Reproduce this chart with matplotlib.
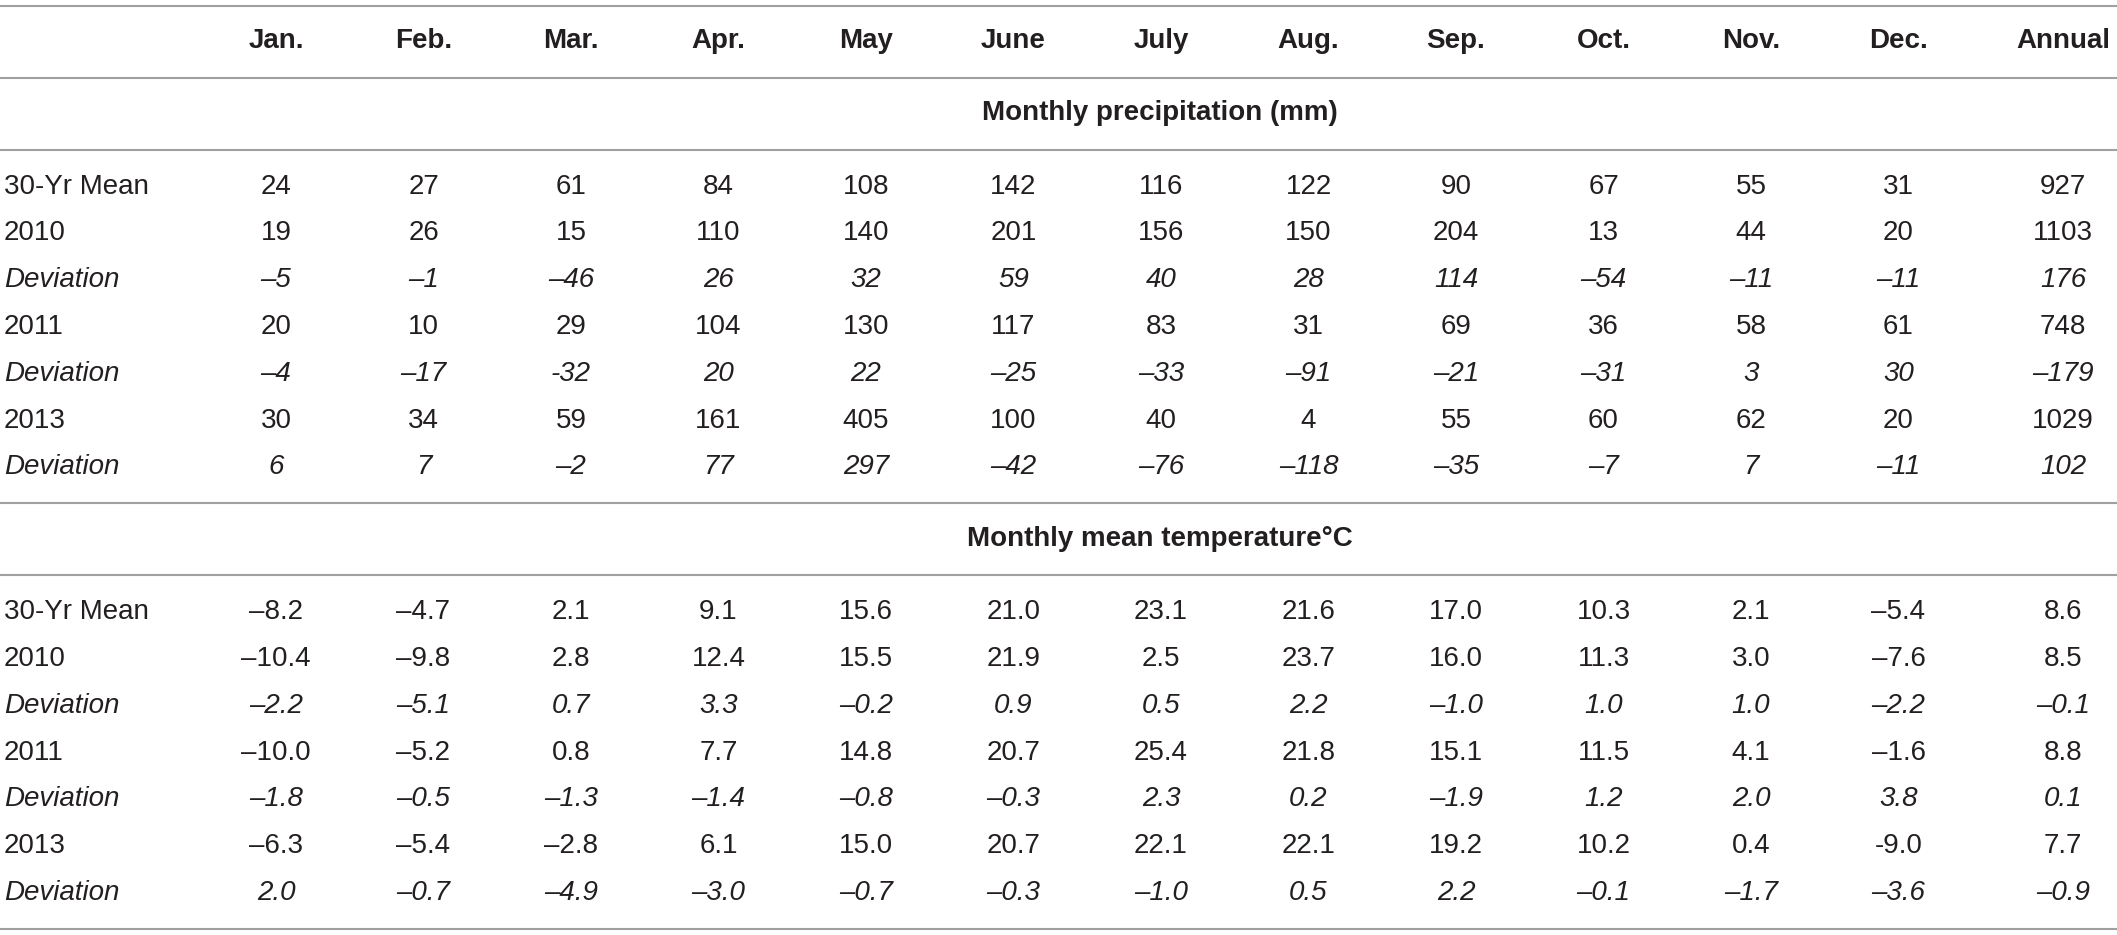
import matplotlib.pyplot as plt

# table content (strings kept as printed, dash types included)
columns = ["Jan.", "Feb.", "Mar.", "Apr.", "May", "June", "July", "Aug.",
           "Sep.", "Oct.", "Nov.", "Dec.", "Annual"]
row_labels = ["30-Yr Mean", "2010", "Deviation", "2011", "Deviation", "2013", "Deviation"]

precip_title = "Monthly precipitation (mm)"
precip_mean = ["24", "27", "61", "84", "108", "142", "116", "122", "90", "67", "55", "31", "927"]
precip_2010 = ["19", "26", "15", "110", "140", "201", "156", "150", "204", "13", "44", "20", "1103"]
precip_dev_2010 = ["–5", "–1", "–46", "26", "32", "59", "40", "28", "114", "–54", "–11", "–11", "176"]
precip_2011 = ["20", "10", "29", "104", "130", "117", "83", "31", "69", "36", "58", "61", "748"]
precip_dev_2011 = ["–4", "–17", "-32", "20", "22", "–25", "–33", "–91", "–21", "–31", "3", "30", "–179"]
precip_2013 = ["30", "34", "59", "161", "405", "100", "40", "4", "55", "60", "62", "20", "1029"]
precip_dev_2013 = ["6", "7", "–2", "77", "297", "–42", "–76", "–118", "–35", "–7", "7", "–11", "102"]

temp_title = "Monthly mean temperature°C"
temp_mean = ["–8.2", "–4.7", "2.1", "9.1", "15.6", "21.0", "23.1", "21.6", "17.0", "10.3", "2.1", "–5.4", "8.6"]
temp_2010 = ["–10.4", "–9.8", "2.8", "12.4", "15.5", "21.9", "2.5", "23.7", "16.0", "11.3", "3.0", "–7.6", "8.5"]
temp_dev_2010 = ["–2.2", "–5.1", "0.7", "3.3", "–0.2", "0.9", "0.5", "2.2", "–1.0", "1.0", "1.0", "–2.2", "–0.1"]
temp_2011 = ["–10.0", "–5.2", "0.8", "7.7", "14.8", "20.7", "25.4", "21.8", "15.1", "11.5", "4.1", "–1.6", "8.8"]
temp_dev_2011 = ["–1.8", "–0.5", "–1.3", "–1.4", "–0.8", "–0.3", "2.3", "0.2", "–1.9", "1.2", "2.0", "3.8", "0.1"]
temp_2013 = ["–6.3", "–5.4", "–2.8", "6.1", "15.0", "20.7", "22.1", "22.1", "19.2", "10.2", "0.4", "-9.0", "7.7"]
temp_dev_2013 = ["2.0", "–0.7", "–4.9", "–3.0", "–0.7", "–0.3", "–1.0", "0.5", "2.2", "–0.1", "–1.7", "–3.6", "–0.9"]

sections = [
    (precip_title, [precip_mean, precip_2010, precip_dev_2010, precip_2011,
                    precip_dev_2011, precip_2013, precip_dev_2013]),
    (temp_title, [temp_mean, temp_2010, temp_dev_2010, temp_2011,
                  temp_dev_2011, temp_2013, temp_dev_2013]),
]

W, H = 2117, 935
fig = plt.figure(figsize=(W / 100, H / 100), dpi=100)
ax = fig.add_axes([0, 0, 1, 1])
ax.set_xlim(0, W)
ax.set_ylim(H, 0)
ax.axis("off")

plt.rcParams["font.family"] = ["Liberation Sans", "DejaVu Sans"]
txt_color = "#231f20"
line_color = "#a0a0a0"
fs = 20

# column x positions
label_x = 4
first_col = 276
col_step = 147.5
annual_x = 2063
col_x = [first_col + i * col_step for i in range(12)] + [annual_x]
title_x = 1160

row_h = 46.8
gap = 36


def hline(y):
    ax.plot([0, W], [y, y], color=line_color, lw=1.5, solid_capstyle="butt")


y = 6
hline(y)
y += 35.5
for x, c in zip(col_x, columns):
    ax.text(x, y, c, ha="center", va="center", fontsize=fs, fontweight="bold", color=txt_color)
y += gap
hline(y)

for title, rows in sections:
    y += gap
    ax.text(title_x, y, title, ha="center", va="center", fontsize=fs,
            fontweight="bold", color=txt_color)
    y += gap
    hline(y)
    y += 37
    for i, (lab, vals) in enumerate(zip(row_labels, rows)):
        yy = y + i * row_h
        style = "italic" if lab == "Deviation" else "normal"
        ax.text(label_x, yy, lab, ha="left", va="center", fontsize=fs,
                style=style, color=txt_color)
        for x, v in zip(col_x, vals):
            ax.text(x, yy, v, ha="center", va="center", fontsize=fs,
                    style=style, color=txt_color)
    y = y + (len(rows) - 1) * row_h + gap
    # rule closing each block
    hline(y)

fig.savefig("out.png", dpi=100, facecolor="white")
